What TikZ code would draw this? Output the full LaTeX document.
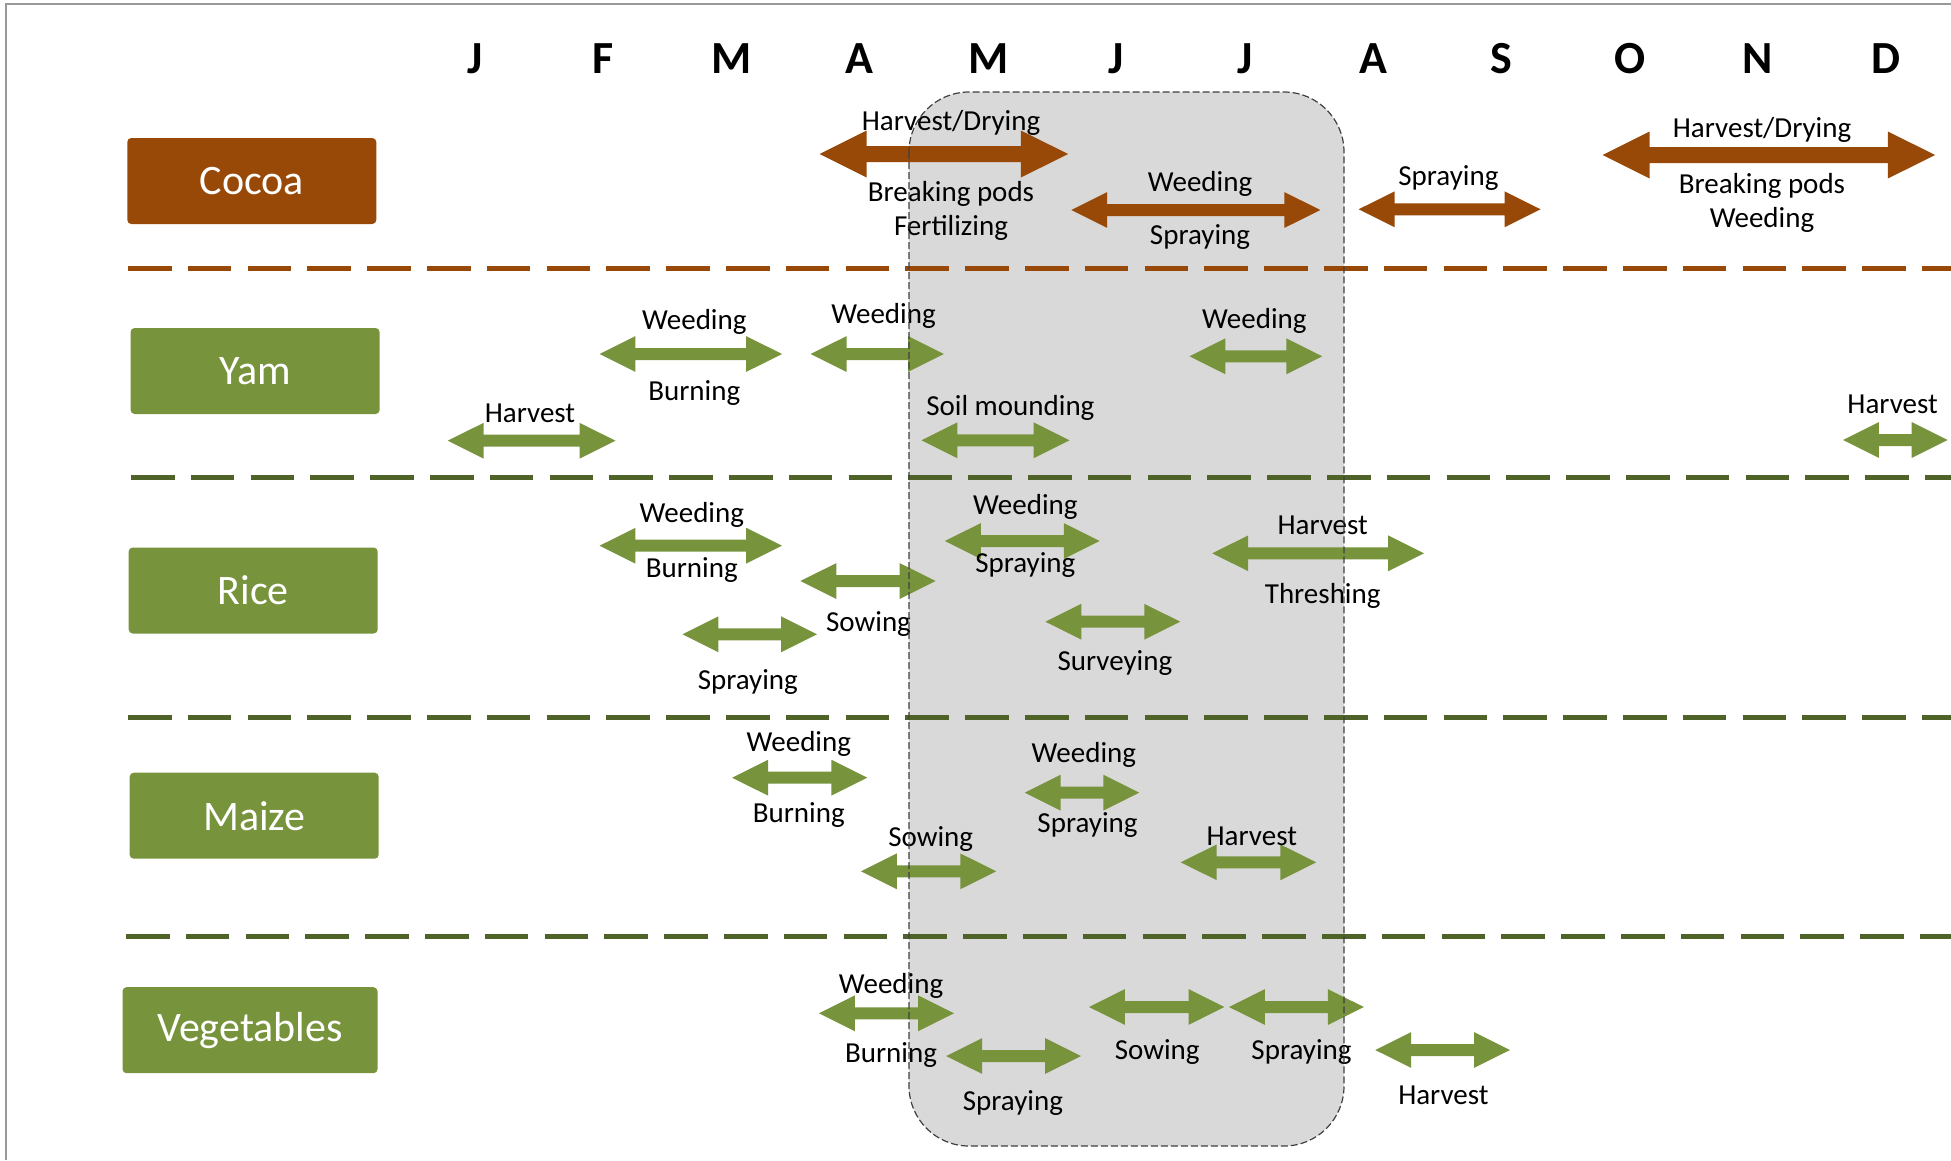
\documentclass[tikz,border=0pt]{standalone}
\usepackage{fontspec}
\setmainfont{Carlito}
\usetikzlibrary{shapes.arrows}
\definecolor{bark}{HTML}{984807}
\definecolor{leaf}{HTML}{77933C}
\definecolor{moss}{HTML}{4F6228}
\definecolor{haze}{HTML}{D9D9D9}

\begin{document}
\begin{tikzpicture}[x=1pt,y=-1pt,
  month/.style={font=\fontsize{46}{50}\selectfont\bfseries,inner sep=0pt,yshift=-1pt},
  crop/.style={fill=leaf,text=white,font=\fontsize{42}{48}\selectfont,minimum width=249pt,minimum height=86pt,rounded corners=4pt,inner sep=0pt},
  divider/.style={line width=5pt,dash pattern=on 43.5pt off 16.3pt},
  act/.style={double arrow,fill=leaf,double arrow tip angle=53,double arrow head extend=11.9pt,inner xsep=0pt,inner ysep=5.8pt,minimum width=0pt,outer sep=0pt,minimum height=#1},
  cocoact/.style={act=#1,fill=bark},
  bigact/.style={cocoact=#1,double arrow head extend=15.5pt,inner ysep=7.8pt},
  lbl/.style={font=\fontsize{29}{34}\selectfont,inner sep=0pt,yshift=-2.5pt}]
\useasboundingbox (0,0) rectangle (1951,1160);
\draw[line width=2pt,gray!80] (1951,4) -- (6,4) -- (6,1160);
\fill[haze,rounded corners=60pt] (909,92) rectangle (1344,1146);

\foreach \m [count=\i from 0] in {J,F,M,A,M,J,J,A,S,O,N,D}
  \node[month] (mon\i) at (475+128.3*\i,58) {\m};

\draw[divider,bark] (128,268) -- (1951,268);
\draw[divider,moss] (131,477) -- (1951,477);
\draw[divider,moss] (128,717) -- (1951,717);
\draw[divider,moss] (126,936) -- (1951,936);

\node[crop,fill=bark] (cocoa) at (251.8,181) {Cocoa};
\node[crop] (yam) at (255.1,371) {Yam};
\node[crop] (rice) at (253.2,590.5) {Rice};
\node[crop] (maize) at (254.2,815.7) {Maize};
\node[crop,minimum width=255pt] (veg) at (250,1030.2) {Vegetables};

% cocoa
\node[bigact=248.5pt] (cHarv) at (943.8,154) {};
\node[lbl] (cHarvT) at (951,120) {Harvest/Drying};
\node[lbl] (cBreak) at (951,191) {Breaking pods};
\node[lbl] (cFert) at (951,225) {Fertilizing};
\node[cocoact=249pt] (cWeed) at (1195.8,210) {};
\node[lbl] (cWeedT) at (1200,181) {Weeding};
\node[lbl] (cSprayB) at (1200,235) {Spraying};
\node[cocoact=182pt] (cSpray) at (1449.6,209.3) {};
\node[lbl] (cSprayT) at (1448.4,175.4) {Spraying};
\node[bigact=332.5pt] (cHarvB) at (1768.8,155) {};
\node[lbl] (cHarvBT) at (1762,127) {Harvest/Drying};
\node[lbl] (cBreakB) at (1762,183) {Breaking pods};
\node[lbl] (cWeedB) at (1762,217.7) {Weeding};

% yam
\node[act=182.5pt] (yWeedA) at (690.8,354) {};
\node[lbl] (yWeedAT) at (694.3,319.8) {Weeding};
\node[lbl] (yBurn) at (694.3,390.7) {Burning};
\node[act=133.3pt] (yWeedB) at (877.3,354) {};
\node[lbl] (yWeedBT) at (883.5,313.6) {Weeding};
\node[act=167.7pt] (yHarvA) at (531.6,440.7) {};
\node[lbl] (yHarvAT) at (530,410.6) {Harvest};
\node[act=148.2pt] (yMound) at (995.5,440.3) {};
\node[lbl] (yMoundT) at (1010.4,405.6) {Soil mounding};
\node[act=132.8pt] (yWeedC) at (1255.9,356.3) {};
\node[lbl] (yWeedCT) at (1254.3,318.5) {Weeding};
\node[act=104.6pt] (yHarvB) at (1895.3,440) {};
\node[lbl] (yHarvBT) at (1892.6,402) {Harvest};

% rice
\node[act=182.5pt] (rWeedA) at (690.8,545.7) {};
\node[lbl] (rWeedAT) at (691.8,512.6) {Weeding};
\node[lbl] (rBurn) at (691.8,567.4) {Burning};
\node[act=135.2pt] (rSow) at (868,581) {};
\node[lbl] (rSowT) at (868.5,622) {Sowing};
\node[act=134.6pt] (rSprayA) at (749.7,634.3) {};
\node[lbl] (rSprayAT) at (747.8,679.4) {Spraying};
\node[act=154.8pt] (rWeedB) at (1022.3,541) {};
\node[lbl] (rWeedBT) at (1025.3,504) {Weeding};
\node[lbl] (rSprayB) at (1025.3,562.4) {Spraying};
\node[act=211.8pt] (rHarv) at (1318.2,553.3) {};
\node[lbl] (rHarvT) at (1322.7,522.6) {Harvest};
\node[lbl] (rThresh) at (1322.7,593.5) {Threshing};
\node[act=134.8pt] (rSurv) at (1112.8,621.7) {};
\node[lbl] (rSurvT) at (1114.9,660.7) {Surveying};

% maize
\node[act=135.2pt] (mWeedA) at (799.7,777.7) {};
\node[lbl] (mWeedAT) at (798.8,741.6) {Weeding};
\node[lbl] (mBurn) at (798.8,812.5) {Burning};
\node[act=135.2pt] (mSow) at (928.6,871.3) {};
\node[lbl] (mSowT) at (930.7,836.2) {Sowing};
\node[act=114.6pt] (mWeedB) at (1082,792.7) {};
\node[lbl] (mWeedBT) at (1083.8,752.8) {Weeding};
\node[lbl] (mSpray) at (1087.5,822.5) {Spraying};
\node[act=135.4pt] (mHarv) at (1248.5,862.3) {};
\node[lbl] (mHarvT) at (1251.8,833.7) {Harvest};

% vegetables
\node[act=135.2pt] (vWeed) at (886.5,1013.3) {};
\node[lbl] (vWeedT) at (891,983) {Weeding};
\node[lbl] (vBurn) at (891,1052.6) {Burning};
\node[act=134.8pt] (vSprayA) at (1013.6,1056) {};
\node[lbl] (vSprayAT) at (1012.9,1100) {Spraying};
\node[act=135.4pt] (vSow) at (1156.7,1007) {};
\node[lbl] (vSowT) at (1157.2,1049) {Sowing};
\node[act=134.8pt] (vSprayB) at (1296.4,1007) {};
\node[lbl] (vSprayBT) at (1301.5,1049) {Spraying};
\node[act=134.7pt] (vHarv) at (1442.6,1050) {};
\node[lbl] (vHarvT) at (1443.4,1092.5) {Harvest};

\draw[black!75,line width=1.2pt,dash pattern=on 7pt off 3pt,rounded corners=60pt] (909,92) rectangle (1344,1146);
\end{tikzpicture}
\end{document}
